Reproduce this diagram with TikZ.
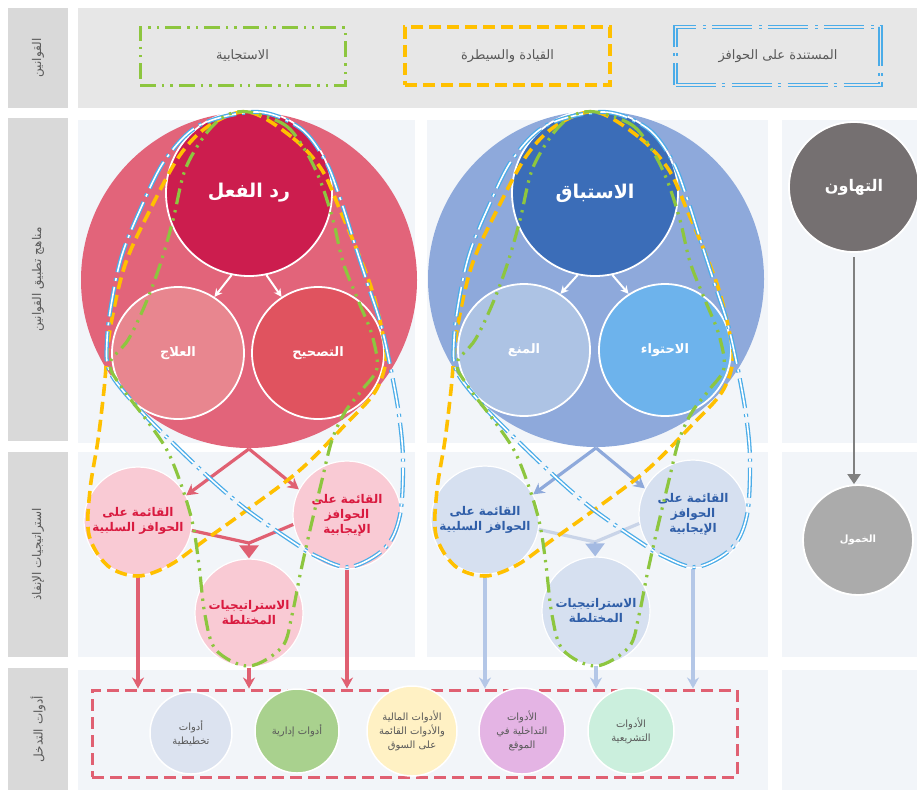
\documentclass[tikz,border=0pt]{standalone}
\usepackage{fontspec}
\newfontfamily\arabicfont[Script=Arabic]{DejaVu Sans}
\TeXXeTstate=1
\usetikzlibrary{positioning, arrows, arrows.meta}

\definecolor{tagFill}{HTML}{D9D9D9}
\definecolor{bandFill}{HTML}{E7E7E7}
\definecolor{laneFill}{HTML}{F2F5F9}
\definecolor{inkGray}{HTML}{595959}
\definecolor{bigRed}{HTML}{E2647A}
\definecolor{topRed}{HTML}{CC1D4E}
\definecolor{cureRed}{HTML}{E8868F}
\definecolor{fixRed}{HTML}{E0535F}
\definecolor{bigBlue}{HTML}{8EA9DB}
\definecolor{topBlue}{HTML}{3B6DB8}
\definecolor{stopBlue}{HTML}{ADC3E4}
\definecolor{holdBlue}{HTML}{6DB3EC}
\definecolor{slackGray}{HTML}{757071}
\definecolor{idleGray}{HTML}{ABABAB}
\definecolor{tacRed}{HTML}{F9CAD4}
\definecolor{tacRedInk}{HTML}{D91A3F}
\definecolor{tacBlue}{HTML}{D6E0F0}
\definecolor{tacBlueInk}{HTML}{2F5EA8}
\definecolor{flowRed}{HTML}{E06072}
\definecolor{flowBlue}{HTML}{8EA9DB}
\definecolor{dropBlue}{HTML}{B4C7E7}
\definecolor{joinBlue}{HTML}{C9D4E8}
\definecolor{lawGreen}{HTML}{8DC63F}
\definecolor{lawOrange}{HTML}{FFC000}
\definecolor{lawBlue}{HTML}{4BACE8}
\definecolor{planFill}{HTML}{DCE3F0}
\definecolor{adminFill}{HTML}{A9D18E}
\definecolor{marketFill}{HTML}{FFF1C4}
\definecolor{siteFill}{HTML}{E4B4E4}
\definecolor{lawFill}{HTML}{CBEFDD}

\newcommand{\rl}[1]{\beginR #1\endR}

\tikzset{
  rowtag/.style={fill=tagFill, rotate=90, minimum height=60pt, inner sep=0pt,
    text=inkGray, font=\arabicfont\fontsize{12}{14}\selectfont},
  disc/.style={circle, inner sep=0pt, draw=white, line width=1.8pt, align=center,
    text=white, font=\arabicfont\bfseries\fontsize{13}{16}\selectfont},
  tactic/.style={disc, minimum size=108pt, line width=1.2pt,
    font=\arabicfont\bfseries\fontsize{12}{15}\selectfont},
  tool/.style={disc, line width=1.5pt, text=inkGray,
    font=\arabicfont\fontsize{10}{14}\selectfont},
  lawbox/.style={minimum width=205pt, minimum height=58pt, text=inkGray,
    font=\arabicfont\fontsize{13}{16}\selectfont},
  whitearrow/.style={-{Stealth[length=8pt,width=8pt]}, white, line width=2pt},
  flow/.style={-{Stealth[length=11pt,width=12pt]}, line width=3.2pt},
  mergeline/.style={line width=3.2pt},
  mergehead/.style={-{Triangle[width=19pt,length=13pt]}, line width=2.5pt},
  respond/.style={lawGreen, line width=3.2pt,
    dash pattern=on 16pt off 6pt on 2.4pt off 6pt on 2.4pt off 6pt},
  command/.style={lawOrange, line width=3.6pt, dash pattern=on 12pt off 6pt},
  incentive/.style={lawBlue, line width=1.3pt, double=white, double distance=1.6pt,
    dash pattern=on 30pt off 6pt on 3pt off 6pt},
}

\begin{document}
\begin{tikzpicture}[x=1pt,y=-1pt]
  \useasboundingbox (0,0) rectangle (917,796);

  % bands and lanes
  \fill[bandFill] (78,8) rectangle (917,108);
  \fill[laneFill] (78,120) rectangle (415,443);
  \fill[laneFill] (427,120) rectangle (768,443);
  \fill[laneFill] (782,120) rectangle (917,443);
  \fill[laneFill] (78,452) rectangle (415,657);
  \fill[laneFill] (427,452) rectangle (768,657);
  \fill[laneFill] (782,452) rectangle (917,657);
  \fill[laneFill] (78,670) rectangle (768,790);
  \fill[laneFill] (782,670) rectangle (917,790);

  \node[rowtag, minimum width=100pt] (tlaws) at (38,58) {\rl{القوانين}};
  \node[rowtag, minimum width=323pt] (tapproach) at (38,279.5) {\rl{مناهج تطبيق القوانين}};
  \node[rowtag, minimum width=205pt] (tenforce) at (38,554.5) {\rl{استراتيجيات الإنفاذ}};
  \node[rowtag, minimum width=122pt] (ttools) at (38,729) {\rl{أدوات التدخل}};

  % law families
  \node[lawbox, draw=lawGreen, line width=3pt,
    dash pattern=on 16pt off 6pt on 2.4pt off 6pt on 2.4pt off 6pt] (lresp) at (242.5,56) {\rl{الاستجابية}};
  \node[lawbox, draw=lawOrange, line width=3.2pt, dash pattern=on 12pt off 6pt] (lcmd) at (507.5,56) {\rl{القيادة والسيطرة}};
  \node[lawbox, draw=lawBlue, line width=1.3pt, double=bandFill, double distance=1.6pt,
    dash pattern=on 40pt off 6pt on 3pt off 7pt] (linc) at (778,56) {\rl{المستندة على الحوافز}};

  % reaction
  \node[disc, draw=none, fill=bigRed, minimum size=336pt] (rbig) at (249,280) {};
  \node[disc, fill=topRed, minimum size=166pt, font=\arabicfont\bfseries\fontsize{19}{22}\selectfont] (rtop) at (249,193) {\rl{رد الفعل}};
  \node[disc, fill=cureRed, minimum size=132pt] (rcure) at (178,353) {\rl{العلاج}};
  \node[disc, fill=fixRed, minimum size=132pt] (rfix) at (318,353) {\rl{التصحيح}};
  \draw[whitearrow] (rtop.258) -- (rcure.57);
  \draw[whitearrow] (rtop.282) -- (rfix.123);

  % anticipation
  \node[disc, draw=none, fill=bigBlue, minimum size=336pt] (bbig) at (596,279) {};
  \node[disc, fill=topBlue, minimum size=166pt, font=\arabicfont\bfseries\fontsize{19}{22}\selectfont] (btop) at (595,193) {\rl{الاستباق}};
  \node[disc, fill=stopBlue, minimum size=132pt] (bstop) at (524,350) {\rl{المنع}};
  \node[disc, fill=holdBlue, minimum size=132pt] (bhold) at (665,350) {\rl{الاحتواء}};
  \draw[whitearrow] (btop.258) -- (bstop.57);
  \draw[whitearrow] (btop.282) -- (bhold.123);

  % laxity
  \node[disc, fill=slackGray, minimum size=130pt, font=\arabicfont\bfseries\fontsize{16}{19}\selectfont] (slack) at (854,187) {\rl{التهاون}};
  \node[disc, fill=idleGray, minimum size=110pt, font=\arabicfont\bfseries\fontsize{10}{12}\selectfont] (idle) at (858,540) {\rl{الخمول}};
  \draw[-{Triangle[width=13pt,length=10pt]}, line width=2pt, gray]
    ([yshift=-4pt]slack.south) -- (slack.south |- idle.north);

  % enforcement, reaction side
  \node[tactic, fill=tacRed, text=tacRedInk] (rneg) at (138,521) {\rl{القائمة على}\\\rl{الحوافز السلبية}};
  \node[tactic, fill=tacRed, text=tacRedInk] (rpos) at (347,515) {\rl{القائمة على}\\\rl{الحوافز}\\\rl{الإيجابية}};
  \node[tactic, fill=tacRed, text=tacRedInk] (rmix) at (249,613) {\rl{الاستراتيجيات}\\\rl{المختلطة}};
  \coordinate (rjoin) at (249,543);
  \draw[flow, flowRed] (rbig.south) -- (rneg.28);
  \draw[flow, flowRed] (rbig.south) -- (rpos.152);
  \draw[mergeline, flowRed] (rneg.-10) -- (rjoin) -- (rpos.190);
  \draw[mergehead, flowRed] (rjoin) -- (rmix);

  % enforcement, anticipation side
  \node[tactic, fill=tacBlue, text=tacBlueInk] (bneg) at (485,520) {\rl{القائمة على}\\\rl{الحوافز السلبية}};
  \node[tactic, fill=tacBlue, text=tacBlueInk] (bpos) at (693,514) {\rl{القائمة على}\\\rl{الحوافز}\\\rl{الإيجابية}};
  \node[tactic, fill=tacBlue, text=tacBlueInk] (bmix) at (596,611) {\rl{الاستراتيجيات}\\\rl{المختلطة}};
  \coordinate (bjoin) at (595,542);
  \draw[flow, flowBlue] (bbig.south) -- (bneg.28);
  \draw[flow, flowBlue] (bbig.south) -- (bpos.152);
  \draw[mergeline, joinBlue] (bneg.-10) -- (bjoin) -- (bpos.190);
  \draw[mergehead, flowBlue!80] (bjoin) -- (bmix);

  % intervention tools
  \node[draw=flowRed, line width=3pt, dash pattern=on 12pt off 6pt,
    minimum width=645pt, minimum height=87pt] (tools) at (414.5,733.5) {};
  \node[tool, fill=planFill, minimum size=82pt] (tplan) at (191,733) {\rl{أدوات}\\\rl{تخطيطية}};
  \node[tool, fill=adminFill, minimum size=84pt] (tadmin) at (297,731) {\rl{أدوات إدارية}};
  \node[tool, fill=marketFill, minimum size=90pt] (tmarket) at (412,731) {\rl{الأدوات المالية}\\\rl{والأدوات القائمة}\\\rl{على السوق}};
  \node[tool, fill=siteFill, minimum size=86pt] (tsite) at (522,731) {\rl{الأدوات}\\\rl{التداخلية في}\\\rl{الموقع}};
  \node[tool, fill=lawFill, minimum size=86pt] (tlaw) at (631,731) {\rl{الأدوات}\\\rl{التشريعية}};

  \draw[flow, flowRed] (rneg) -- (rneg |- tools.north);
  \draw[flow, flowRed] (rmix) -- (rmix |- tools.north);
  \draw[flow, flowRed] (rpos) -- (rpos |- tools.north);
  \draw[flow, dropBlue] (bneg) -- (bneg |- tools.north);
  \draw[flow, dropBlue] (bmix) -- (bmix |- tools.north);
  \draw[flow, dropBlue] (bpos) -- (bpos |- tools.north);

  % lassos of the three law families, once per approach
  \foreach \dx in {0,347} {
    \begin{scope}[shift={(\dx,0)}]
      \draw[command] plot[smooth cycle, tension=0.55] coordinates {
        (249,112) (293,138) (322,170) (340,210) (357,250) (372,290) (382,330)
        (386,360) (375,392) (345,425) (300,470) (247,510) (205,540) (170,565)
        (138,576) (108,566) (89,535) (90,490) (98,440) (104,390) (110,330)
        (125,265) (150,210) (180,155) (210,125)};
      \draw[incentive] plot[smooth cycle, tension=0.55] coordinates {
        (257,112) (300,128) (325,160) (340,198) (355,245) (368,285) (381,325)
        (391,370) (399,415) (403,460) (400,515) (385,548) (350,567) (318,557)
        (290,540) (247,510) (215,483) (180,450) (140,410) (110,372) (107,340)
        (112,300) (122,255) (140,210) (165,160) (200,125)};
      \draw[respond] plot[smooth cycle, tension=0.55] coordinates {
        (249,112) (285,125) (305,150) (320,180) (333,220) (343,262) (358,300)
        (372,335) (377,368) (362,390) (345,412) (332,440) (322,480) (310,530)
        (300,575) (292,615) (282,647) (249,666) (216,650) (205,615) (199,565)
        (193,525) (183,490) (168,452) (148,422) (120,385) (110,363) (128,340)
        (145,305) (160,265) (173,220) (185,170) (205,135) (225,116)};
    \end{scope}
  }
\end{tikzpicture}
\end{document}
